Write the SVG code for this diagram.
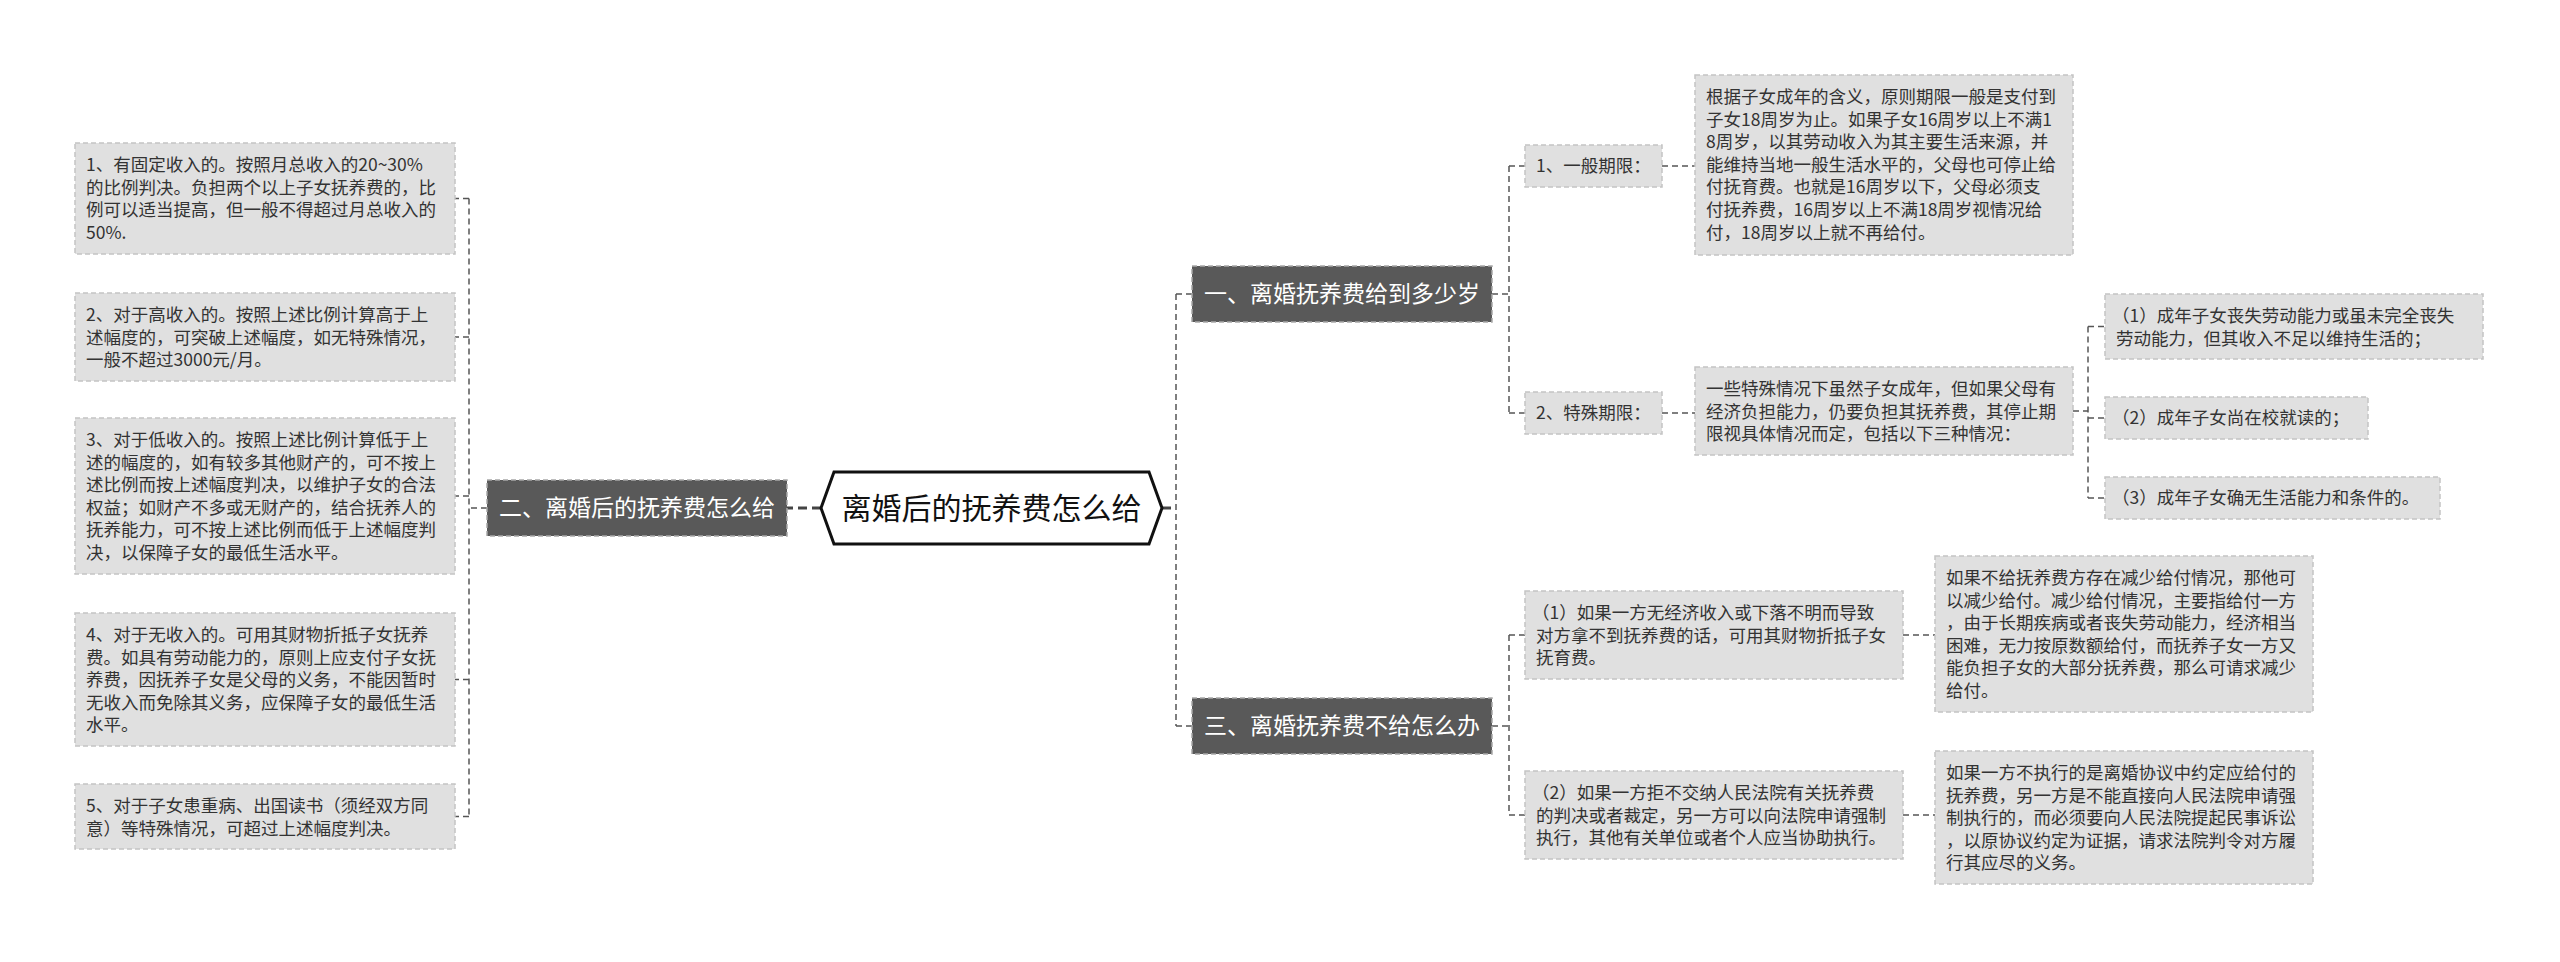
<svg xmlns="http://www.w3.org/2000/svg" width="2560" height="962" viewBox="0 0 2560 962">
<style>
.leaf{fill:#e0e0e0;stroke:#c4c4c4;stroke-width:1.5;stroke-dasharray:5 3}
.br{fill:#595959;stroke:#a8a8a8;stroke-width:1.5;stroke-dasharray:5 3}
.t{font-family:"Noto Sans CJK SC","Noto Sans",sans-serif;font-size:17.5px;fill:#333}
.bt{font-family:"Noto Sans CJK SC","Noto Sans",sans-serif;font-size:23px;fill:#fff;text-anchor:middle}
.ct{font-family:"Noto Sans CJK SC","Noto Sans",sans-serif;font-size:30px;fill:#111;text-anchor:middle}
.c{fill:none;stroke:#555;stroke-width:1.5;stroke-dasharray:6 4}
.ck{fill:none;stroke:#444;stroke-width:3;stroke-dasharray:9 5}
</style>
<rect width="2560" height="962" fill="#fff"/>
<g id="connectors">
<path class="ck" d="M821 508H787"/>
<path class="ck" d="M1162 508H1176"/>
<path class="c" d="M1176 294V726M1176 294H1192M1176 726H1192"/>
<path class="c" d="M487 508H469M469 198.5V816.5M469 198.5H455M469 337H455M469 496H455M469 679.5H455M469 816.5H455"/>
<path class="c" d="M1492 294H1509M1509 166V413M1509 166H1525M1509 413H1525"/>
<path class="c" d="M1662 166H1695M1662 413H1695"/>
<path class="c" d="M2073 411H2088M2088 326.5V498M2088 326.5H2105M2088 418H2105M2088 498H2105"/>
<path class="c" d="M1492 726H1509M1509 635V815M1509 635H1525M1509 815H1525"/>
<path class="c" d="M1903 635H1935M1903 815H1935"/>
</g>
<g id="center">
<polygon points="821,508 834,472 1149,472 1162,508 1149,544 834,544" fill="#fff" stroke="#111" stroke-width="3"/>
<text class="ct" x="991.5" y="519">离婚后的抚养费怎么给</text>
</g>
<g id="b2">
<rect class="br" x="487" y="480" width="300" height="56"/>
<text class="bt" x="637" y="516">二、离婚后的抚养费怎么给</text>
</g>
<g id="b1">
<rect class="br" x="1192" y="266" width="300" height="56"/>
<text class="bt" x="1342" y="302">一、离婚抚养费给到多少岁</text>
</g>
<g id="b3">
<rect class="br" x="1192" y="698" width="300" height="56"/>
<text class="bt" x="1342" y="734">三、离婚抚养费不给怎么办</text>
</g>
<g id="l1">
<rect class="leaf" x="75" y="143" width="380" height="111"/>
<text class="t" y="171"><tspan x="86">1、有固定收入的。按照月总收入的20~30%</tspan><tspan x="86" dy="22.6">的比例判决。负担两个以上子女抚养费的，比</tspan><tspan x="86" dy="22.6">例可以适当提高，但一般不得超过月总收入的</tspan><tspan x="86" dy="22.6">50%.</tspan></text>
</g>
<g id="l2">
<rect class="leaf" x="75" y="293" width="380" height="88"/>
<text class="t" y="321"><tspan x="86">2、对于高收入的。按照上述比例计算高于上</tspan><tspan x="86" dy="22.6">述幅度的，可突破上述幅度，如无特殊情况，</tspan><tspan x="86" dy="22.6">一般不超过3000元/月。</tspan></text>
</g>
<g id="l3">
<rect class="leaf" x="75" y="418" width="380" height="156"/>
<text class="t" y="446"><tspan x="86">3、对于低收入的。按照上述比例计算低于上</tspan><tspan x="86" dy="22.6">述的幅度的，如有较多其他财产的，可不按上</tspan><tspan x="86" dy="22.6">述比例而按上述幅度判决，以维护子女的合法</tspan><tspan x="86" dy="22.6">权益；如财产不多或无财产的，结合抚养人的</tspan><tspan x="86" dy="22.6">抚养能力，可不按上述比例而低于上述幅度判</tspan><tspan x="86" dy="22.6">决，以保障子女的最低生活水平。</tspan></text>
</g>
<g id="l4">
<rect class="leaf" x="75" y="613" width="380" height="133"/>
<text class="t" y="641"><tspan x="86">4、对于无收入的。可用其财物折抵子女抚养</tspan><tspan x="86" dy="22.6">费。如具有劳动能力的，原则上应支付子女抚</tspan><tspan x="86" dy="22.6">养费，因抚养子女是父母的义务，不能因暂时</tspan><tspan x="86" dy="22.6">无收入而免除其义务，应保障子女的最低生活</tspan><tspan x="86" dy="22.6">水平。</tspan></text>
</g>
<g id="l5">
<rect class="leaf" x="75" y="784" width="380" height="65"/>
<text class="t" y="812"><tspan x="86">5、对于子女患重病、出国读书（须经双方同</tspan><tspan x="86" dy="22.6">意）等特殊情况，可超过上述幅度判决。</tspan></text>
</g>
<g id="r1a">
<rect class="leaf" x="1525" y="145" width="137" height="42"/>
<text class="t" x="1536" y="172">1、一般期限：</text>
</g>
<g id="r1b">
<rect class="leaf" x="1525" y="392" width="137" height="42"/>
<text class="t" x="1536" y="419">2、特殊期限：</text>
</g>
<g id="r1a1">
<rect class="leaf" x="1695" y="75" width="378" height="180"/>
<text class="t" y="103"><tspan x="1706">根据子女成年的含义，原则期限一般是支付到</tspan><tspan x="1706" dy="22.6">子女18周岁为止。如果子女16周岁以上不满1</tspan><tspan x="1706" dy="22.6">8周岁，以其劳动收入为其主要生活来源，并</tspan><tspan x="1706" dy="22.6">能维持当地一般生活水平的，父母也可停止给</tspan><tspan x="1706" dy="22.6">付抚育费。也就是16周岁以下，父母必须支</tspan><tspan x="1706" dy="22.6">付抚养费，16周岁以上不满18周岁视情况给</tspan><tspan x="1706" dy="22.6">付，18周岁以上就不再给付。</tspan></text>
</g>
<g id="r1b1">
<rect class="leaf" x="1695" y="367" width="378" height="88"/>
<text class="t" y="395"><tspan x="1706">一些特殊情况下虽然子女成年，但如果父母有</tspan><tspan x="1706" dy="22.6">经济负担能力，仍要负担其抚养费，其停止期</tspan><tspan x="1706" dy="22.6">限视具体情况而定，包括以下三种情况：</tspan></text>
</g>
<g id="s1">
<rect class="leaf" x="2105" y="294" width="378" height="65"/>
<text class="t" y="322"><tspan x="2112">（1）成年子女丧失劳动能力或虽未完全丧失</tspan><tspan x="2116" dy="22.6">劳动能力，但其收入不足以维持生活的；</tspan></text>
</g>
<g id="s2">
<rect class="leaf" x="2105" y="397" width="263" height="42"/>
<text class="t" x="2112" y="424">（2）成年子女尚在校就读的；</text>
</g>
<g id="s3">
<rect class="leaf" x="2105" y="477" width="335" height="42"/>
<text class="t" x="2112" y="504">（3）成年子女确无生活能力和条件的。</text>
</g>
<g id="r3a">
<rect class="leaf" x="1525" y="591" width="378" height="88"/>
<text class="t" y="619"><tspan x="1532">（1）如果一方无经济收入或下落不明而导致</tspan><tspan x="1536" dy="22.6">对方拿不到抚养费的话，可用其财物折抵子女</tspan><tspan x="1536" dy="22.6">抚育费。</tspan></text>
</g>
<g id="r3b">
<rect class="leaf" x="1525" y="771" width="378" height="88"/>
<text class="t" y="799"><tspan x="1532">（2）如果一方拒不交纳人民法院有关抚养费</tspan><tspan x="1536" dy="22.6">的判决或者裁定，另一方可以向法院申请强制</tspan><tspan x="1536" dy="22.6">执行，其他有关单位或者个人应当协助执行。</tspan></text>
</g>
<g id="r3a1">
<rect class="leaf" x="1935" y="556" width="378" height="156"/>
<text class="t" y="584"><tspan x="1946">如果不给抚养费方存在减少给付情况，那他可</tspan><tspan x="1946" dy="22.6">以减少给付。减少给付情况，主要指给付一方</tspan><tspan x="1946" dy="22.6">，由于长期疾病或者丧失劳动能力，经济相当</tspan><tspan x="1946" dy="22.6">困难，无力按原数额给付，而抚养子女一方又</tspan><tspan x="1946" dy="22.6">能负担子女的大部分抚养费，那么可请求减少</tspan><tspan x="1946" dy="22.6">给付。</tspan></text>
</g>
<g id="r3b1">
<rect class="leaf" x="1935" y="751" width="378" height="133"/>
<text class="t" y="779"><tspan x="1946">如果一方不执行的是离婚协议中约定应给付的</tspan><tspan x="1946" dy="22.6">抚养费，另一方是不能直接向人民法院申请强</tspan><tspan x="1946" dy="22.6">制执行的，而必须要向人民法院提起民事诉讼</tspan><tspan x="1946" dy="22.6">，以原协议约定为证据，请求法院判令对方履</tspan><tspan x="1946" dy="22.6">行其应尽的义务。</tspan></text>
</g>
</svg>
